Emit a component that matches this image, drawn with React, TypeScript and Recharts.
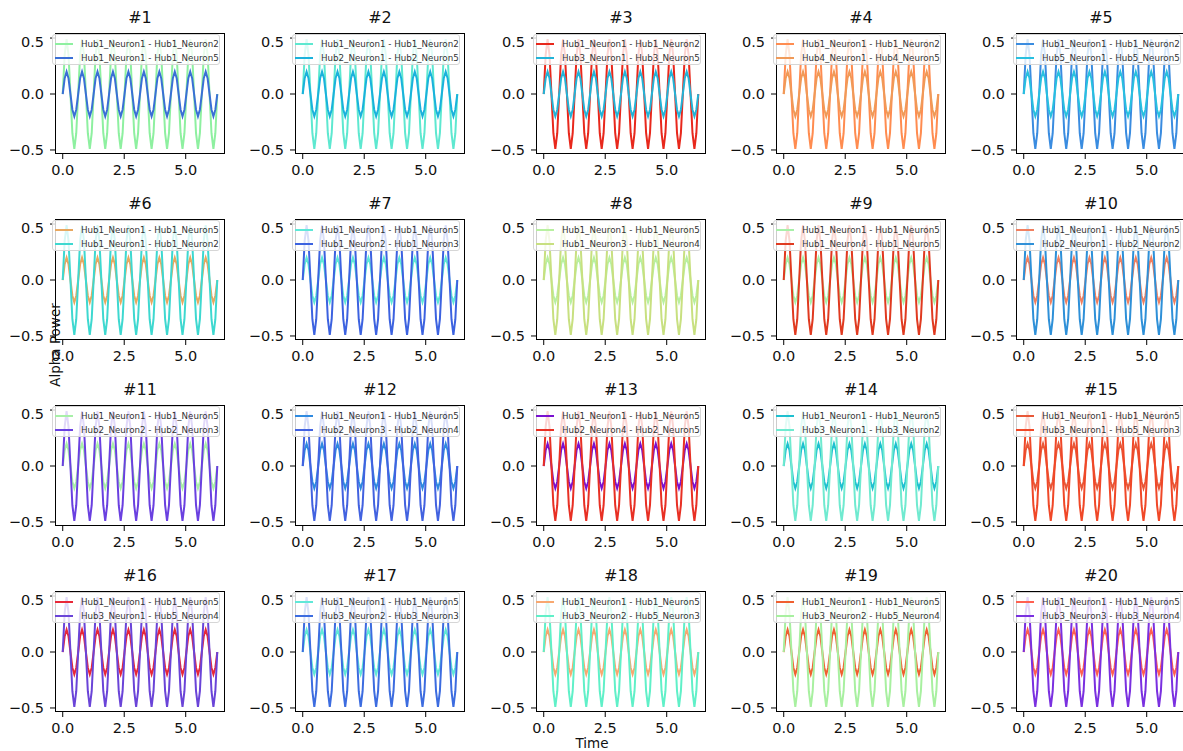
import { Line, LineChart, XAxis, YAxis } from "recharts";

// sample times (0 .. 2π) and the two wave shapes seen in every panel
const TIME = [
  0, 0.0785, 0.1571, 0.2356, 0.3142, 0.3927, 0.4712, 0.5498,
  0.6283, 0.7069, 0.7854, 0.8639, 0.9425, 1.021, 1.0996, 1.1781,
  1.2566, 1.3352, 1.4137, 1.4923, 1.5708, 1.6493, 1.7279, 1.8064,
  1.885, 1.9635, 2.042, 2.1206, 2.1991, 2.2777, 2.3562, 2.4347,
  2.5133, 2.5918, 2.6704, 2.7489, 2.8274, 2.906, 2.9845, 3.0631,
  3.1416, 3.2201, 3.2987, 3.3772, 3.4558, 3.5343, 3.6128, 3.6914,
  3.7699, 3.8485, 3.927, 4.0055, 4.0841, 4.1626, 4.2412, 4.3197,
  4.3982, 4.4768, 4.5553, 4.6339, 4.7124, 4.7909, 4.8695, 4.948,
  5.0265, 5.1051, 5.1836, 5.2622, 5.3407, 5.4192, 5.4978, 5.5763,
  5.6549, 5.7334, 5.8119, 5.8905, 5.969, 6.0476, 6.1261, 6.2046,
  6.2832,
];

const HIGH_WAVE = [
  0, 0.35, 0.49, 0.35, 0, -0.35, -0.49, -0.35,
  0, 0.35, 0.49, 0.35, 0, -0.35, -0.49, -0.35,
  0, 0.35, 0.49, 0.35, 0, -0.35, -0.49, -0.35,
  0, 0.35, 0.49, 0.35, 0, -0.35, -0.49, -0.35,
  0, 0.35, 0.49, 0.35, 0, -0.35, -0.49, -0.35,
  0, 0.35, 0.49, 0.35, 0, -0.35, -0.49, -0.35,
  0, 0.35, 0.49, 0.35, 0, -0.35, -0.49, -0.35,
  0, 0.35, 0.49, 0.35, 0, -0.35, -0.49, -0.35,
  0, 0.35, 0.49, 0.35, 0, -0.35, -0.49, -0.35,
  0, 0.35, 0.49, 0.35, 0, -0.35, -0.49, -0.35,
  0,
];

const LOW_WAVE = [
  0, 0.14, 0.2, 0.14, 0, -0.14, -0.2, -0.14,
  0, 0.14, 0.2, 0.14, 0, -0.14, -0.2, -0.14,
  0, 0.14, 0.2, 0.14, 0, -0.14, -0.2, -0.14,
  0, 0.14, 0.2, 0.14, 0, -0.14, -0.2, -0.14,
  0, 0.14, 0.2, 0.14, 0, -0.14, -0.2, -0.14,
  0, 0.14, 0.2, 0.14, 0, -0.14, -0.2, -0.14,
  0, 0.14, 0.2, 0.14, 0, -0.14, -0.2, -0.14,
  0, 0.14, 0.2, 0.14, 0, -0.14, -0.2, -0.14,
  0, 0.14, 0.2, 0.14, 0, -0.14, -0.2, -0.14,
  0, 0.14, 0.2, 0.14, 0, -0.14, -0.2, -0.14,
  0,
];

const PANEL_TITLES = [
  "#1", "#2", "#3", "#4", "#5", "#6", "#7", "#8", "#9", "#10",
  "#11", "#12", "#13", "#14", "#15", "#16", "#17", "#18", "#19", "#20",
];

const LABELS_A = [
  "Hub1_Neuron1 - Hub1_Neuron2", "Hub1_Neuron1 - Hub1_Neuron2", "Hub1_Neuron1 - Hub1_Neuron2",
  "Hub1_Neuron1 - Hub1_Neuron2", "Hub1_Neuron1 - Hub1_Neuron2",
  "Hub1_Neuron1 - Hub1_Neuron5", "Hub1_Neuron1 - Hub1_Neuron5", "Hub1_Neuron1 - Hub1_Neuron5",
  "Hub1_Neuron1 - Hub1_Neuron5", "Hub1_Neuron1 - Hub1_Neuron5", "Hub1_Neuron1 - Hub1_Neuron5",
  "Hub1_Neuron1 - Hub1_Neuron5", "Hub1_Neuron1 - Hub1_Neuron5", "Hub1_Neuron1 - Hub1_Neuron5",
  "Hub1_Neuron1 - Hub1_Neuron5", "Hub1_Neuron1 - Hub1_Neuron5", "Hub1_Neuron1 - Hub1_Neuron5",
  "Hub1_Neuron1 - Hub1_Neuron5", "Hub1_Neuron1 - Hub1_Neuron5", "Hub1_Neuron1 - Hub1_Neuron5",
];

const LABELS_B = [
  "Hub1_Neuron1 - Hub1_Neuron5", "Hub2_Neuron1 - Hub2_Neuron5", "Hub3_Neuron1 - Hub3_Neuron5",
  "Hub4_Neuron1 - Hub4_Neuron5", "Hub5_Neuron1 - Hub5_Neuron5", "Hub1_Neuron1 - Hub1_Neuron2",
  "Hub1_Neuron2 - Hub1_Neuron3", "Hub1_Neuron3 - Hub1_Neuron4", "Hub1_Neuron4 - Hub1_Neuron5",
  "Hub2_Neuron1 - Hub2_Neuron2", "Hub2_Neuron2 - Hub2_Neuron3", "Hub2_Neuron3 - Hub2_Neuron4",
  "Hub2_Neuron4 - Hub2_Neuron5", "Hub3_Neuron1 - Hub3_Neuron2", "Hub3_Neuron1 - Hub5_Neuron3",
  "Hub3_Neuron1 - Hub5_Neuron4", "Hub3_Neuron2 - Hub3_Neuron3", "Hub3_Neuron2 - Hub5_Neuron3",
  "Hub3_Neuron2 - Hub5_Neuron4", "Hub3_Neuron3 - Hub3_Neuron4",
];

const COLORS_A = [
  "#8ef0a0", "#5ee8d0", "#e8281c", "#ff8c50", "#3a8ce0",
  "#e8a860", "#5ee8d8", "#b8f0a0", "#a8f0a8", "#f08060",
  "#a8f0a8", "#2f8ae0", "#7a10d0", "#1ec0d0", "#e85838",
  "#e82838", "#60e8d8", "#f8a870", "#f06030", "#ff6050",
];

const COLORS_B = [
  "#3a6fd6", "#1ab2dc", "#22b4d8", "#f09a58", "#28c0e0",
  "#3ed8d0", "#3c62e0", "#c8e080", "#e03a20", "#2e90d8",
  "#6a40e0", "#4262e0", "#e83024", "#70ead0", "#f04828",
  "#6a44d8", "#3c6ce0", "#60f0c8", "#a8f0a0", "#7a30e0",
];

// which wave the first legend entry follows
const A_IS_HIGH = [
  true, true, true, true, true,
  false, false, false, false, false,
  false, false, false, false, false,
  false, false, false, false, false,
];

const data = TIME.map((t, i) => ({ t, high: HIGH_WAVE[i], low: LOW_WAVE[i] }));

const FONT = "'DejaVu Sans', sans-serif";
const BOX_W = 170;
const BOX_H = 121;
const Y_AXIS_W = 45;
const X_AXIS_H = 30;

const fmt = (v: number) => v.toFixed(1).replace("-", "\u2212");

function Panel({ i }: { i: number }) {
  const col = i % 5;
  const row = Math.floor(i / 5);
  const boxLeft = Math.round(55 + col * 240.3);
  const boxTop = Math.round(32.5 + row * 186);
  const keyA = A_IS_HIGH[i] ? "high" : "low";
  const keyB = A_IS_HIGH[i] ? "low" : "high";

  return (
    <>
      <div
        style={{
          position: "absolute",
          left: boxLeft,
          top: boxTop - 23,
          width: BOX_W,
          textAlign: "center",
          fontSize: 16,
          lineHeight: "16px",
          color: "#111",
        }}
      >
        {PANEL_TITLES[i]}
      </div>
      <div style={{ position: "absolute", left: boxLeft - Y_AXIS_W, top: boxTop }}>
        <LineChart
          width={Y_AXIS_W + BOX_W}
          height={BOX_H + X_AXIS_H}
          data={data}
          margin={{ top: 0, right: 0, bottom: 0, left: 0 }}
        >
          <XAxis
            dataKey="t"
            type="number"
            domain={[-0.314, 6.597]}
            ticks={[0, 2.5, 5]}
            tickFormatter={fmt}
            allowDataOverflow
            height={X_AXIS_H}
            axisLine={false}
            tickSize={5}
            tickMargin={6}
            tickLine={{ stroke: "#000" }}
            tick={{ fill: "#111", fontSize: 14.5, fontFamily: FONT }}
          />
          <YAxis
            type="number"
            domain={[-0.536, 0.545]}
            ticks={[-0.5, 0, 0.5]}
            tickFormatter={fmt}
            allowDataOverflow
            width={Y_AXIS_W}
            axisLine={false}
            tickSize={5}
            tickMargin={6}
            tickLine={{ stroke: "#000" }}
            tick={{ fill: "#111", fontSize: 14.5, fontFamily: FONT }}
          />
          <Line
            dataKey={keyA}
            type="linear"
            stroke={COLORS_A[i]}
            strokeWidth={2}
            dot={false}
            isAnimationActive={false}
          />
          <Line
            dataKey={keyB}
            type="linear"
            stroke={COLORS_B[i]}
            strokeWidth={2}
            dot={false}
            isAnimationActive={false}
          />
        </LineChart>
      </div>
      <div
        style={{
          position: "absolute",
          left: boxLeft,
          top: boxTop,
          width: BOX_W,
          height: BOX_H,
          border: "1px solid #000",
          boxSizing: "border-box",
          pointerEvents: "none",
        }}
      />
      <div
        style={{
          position: "absolute",
          left: boxLeft - 3,
          top: boxTop + 1,
          width: 168,
          height: 31,
          background: "rgba(255,255,255,0.8)",
          border: "1px solid #d6d6d6",
          borderRadius: 3,
          boxSizing: "border-box",
          fontSize: 8.7,
          color: "#333",
        }}
      >
        {[
          [COLORS_A[i], LABELS_A[i]],
          [COLORS_B[i], LABELS_B[i]],
        ].map(([c, label], k) => (
          <div
            key={k}
            style={{
              position: "absolute",
              left: 2,
              top: k === 0 ? 3 : 17,
              height: 12,
              display: "flex",
              alignItems: "center",
              whiteSpace: "nowrap",
            }}
          >
            <span style={{ width: 18, height: 2, background: c, marginRight: 8 }} />
            <span>{label}</span>
          </div>
        ))}
      </div>
    </>
  );
}

export default function App() {
  return (
    <div
      style={{
        position: "absolute",
        left: 0,
        top: 0,
        width: 1183,
        height: 751,
        overflow: "hidden",
        background: "#fff",
        fontFamily: FONT,
      }}
    >
      {PANEL_TITLES.map((_, i) => (
        <Panel key={i} i={i} />
      ))}
      <div
        style={{
          position: "absolute",
          left: 55,
          top: 345,
          transform: "translate(-50%, -50%) rotate(-90deg)",
          fontSize: 13.5,
          color: "#111",
          whiteSpace: "nowrap",
        }}
      >
        Alpha Power
      </div>
      <div
        style={{
          position: "absolute",
          left: 592,
          top: 743,
          transform: "translate(-50%, -50%)",
          fontSize: 13.5,
          color: "#111",
        }}
      >
        Time
      </div>
    </div>
  );
}
